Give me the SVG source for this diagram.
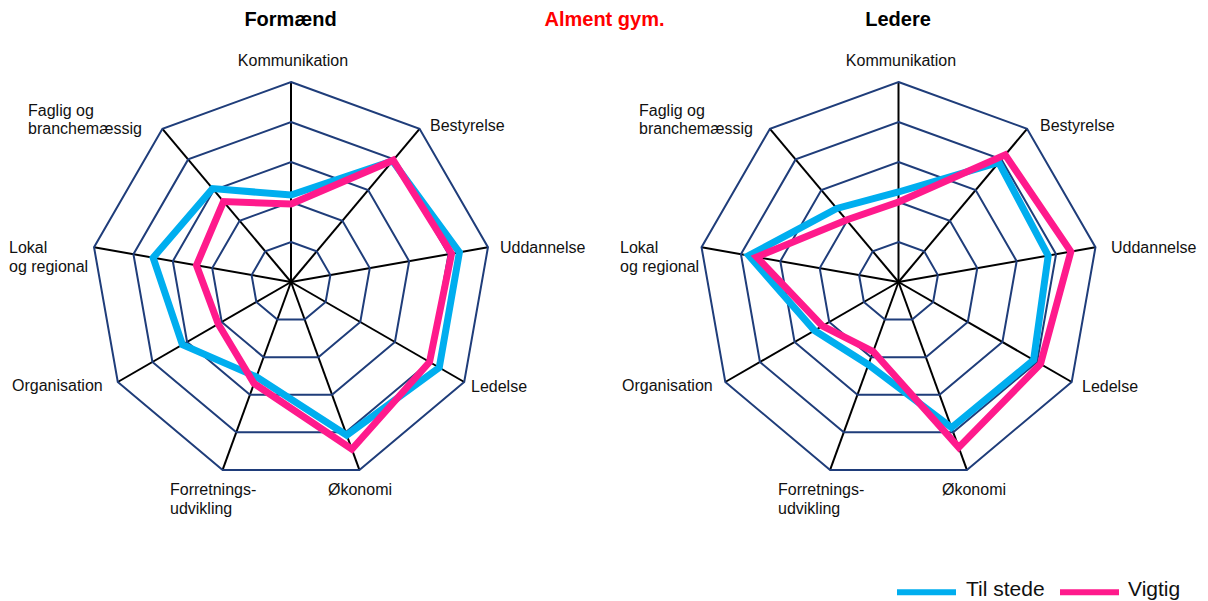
<svg xmlns="http://www.w3.org/2000/svg" width="1208" height="601" viewBox="0 0 1208 601">
<defs>
<style>
.ring{fill:none;stroke:#1f3d7a;stroke-width:2}
.spoke{stroke:#000;stroke-width:2}
.cyan{fill:none;stroke:#00aeef;stroke-width:7;stroke-linejoin:miter}
.pink{fill:none;stroke:#ff1a8c;stroke-width:7;stroke-linejoin:miter}
.lbl{font-family:"Liberation Sans",Arial,sans-serif;font-size:16px;fill:#111}
.ttl{font-family:"Liberation Sans",Arial,sans-serif;font-size:20px;font-weight:bold;fill:#000;text-anchor:middle}
.leg{font-family:"Liberation Sans",Arial,sans-serif;font-size:21px;fill:#111}
</style>
<g id="grid">
<g class="spokes">
<line class="spoke" x1="0" y1="0" x2="0" y2="-200"/>
<line class="spoke" x1="0" y1="0" x2="128.56" y2="-153.21"/>
<line class="spoke" x1="0" y1="0" x2="196.96" y2="-34.73"/>
<line class="spoke" x1="0" y1="0" x2="173.21" y2="100"/>
<line class="spoke" x1="0" y1="0" x2="68.4" y2="187.94"/>
<line class="spoke" x1="0" y1="0" x2="-68.4" y2="187.94"/>
<line class="spoke" x1="0" y1="0" x2="-173.21" y2="100"/>
<line class="spoke" x1="0" y1="0" x2="-196.96" y2="-34.73"/>
<line class="spoke" x1="0" y1="0" x2="-128.56" y2="-153.21"/>
</g>
<polygon class="ring" points="0,-40 25.71,-30.64 39.39,-6.94 34.64,20 13.68,37.59 -13.68,37.59 -34.64,20 -39.39,-6.94 -25.71,-30.64"/>
<polygon class="ring" points="0,-80 51.42,-61.28 78.78,-13.89 69.28,40 27.36,75.18 -27.36,75.18 -69.28,40 -78.78,-13.89 -51.42,-61.28"/>
<polygon class="ring" points="0,-120 77.13,-91.93 118.18,-20.84 103.92,60 41.04,112.76 -41.04,112.76 -103.92,60 -118.18,-20.84 -77.13,-91.93"/>
<polygon class="ring" points="0,-160 102.85,-122.57 157.57,-27.78 138.56,80 54.72,150.35 -54.72,150.35 -138.56,80 -157.57,-27.78 -102.85,-122.57"/>
<polygon class="ring" points="0,-200 128.56,-153.21 196.96,-34.73 173.21,100 68.4,187.94 -68.4,187.94 -173.21,100 -196.96,-34.73 -128.56,-153.21"/>
</g>
</defs>
<rect width="1208" height="601" fill="#fff"/>

<g id="titles">
<text class="ttl" x="290.5" y="26">Formænd</text>
<text class="ttl" x="604.5" y="26" style="fill:#ff0000">Alment gym.</text>
<text class="ttl" x="898" y="26">Ledere</text>
</g>

<g id="chart-formaend">
<use href="#grid" transform="translate(291,282)"/>
<g transform="translate(291,282)">
<polygon id="f-tilstede" class="cyan" points="0,-87 101.56,-121.03 168.4,-29.69 148.26,85.6 55.75,153.17 -34.54,94.91 -108.6,62.7 -137.87,-24.31 -78.42,-93.46"/>
<polygon id="f-vigtig" class="pink" points="0,-78 102.2,-121.8 160.52,-28.3 138.56,80 60.88,167.26 -36.94,101.49 -72.74,42 -94.54,-16.67 -67.49,-80.43"/>
</g>
<g class="labels">
<text class="lbl" x="293" y="66" text-anchor="middle">Kommunikation</text>
<text class="lbl" x="430" y="131">Bestyrelse</text>
<text class="lbl" x="500" y="253">Uddannelse</text>
<text class="lbl" x="471" y="392">Ledelse</text>
<text class="lbl" x="328" y="495">Økonomi</text>
<text class="lbl" x="170" y="495">Forretnings-</text>
<text class="lbl" x="170" y="514">udvikling</text>
<text class="lbl" x="12" y="391">Organisation</text>
<text class="lbl" x="9" y="253">Lokal</text>
<text class="lbl" x="9" y="272">og regional</text>
<text class="lbl" x="28" y="116">Faglig og</text>
<text class="lbl" x="28" y="134">branchemæssig</text>
</g>
</g>

<g id="chart-ledere">
<use href="#grid" transform="translate(898.5,282)"/>
<g transform="translate(898.5,282)">
<polygon id="l-tilstede" class="cyan" points="0,-90 100.28,-119.5 149.69,-26.39 135.1,78 53.01,145.65 -30.1,82.69 -84,48.5 -149.69,-26.39 -61.71,-73.54"/>
<polygon id="l-vigtig" class="pink" points="0,-80 106.7,-127.16 172.34,-30.38 142.02,82 60.19,165.39 -25.31,69.54 -76.21,44 -141.81,-25 -52.07,-62.05"/>
</g>
<g class="labels">
<text class="lbl" x="901" y="66" text-anchor="middle">Kommunikation</text>
<text class="lbl" x="1040" y="131">Bestyrelse</text>
<text class="lbl" x="1111" y="253">Uddannelse</text>
<text class="lbl" x="1082" y="392">Ledelse</text>
<text class="lbl" x="942" y="495">Økonomi</text>
<text class="lbl" x="778" y="495">Forretnings-</text>
<text class="lbl" x="778" y="514">udvikling</text>
<text class="lbl" x="622" y="391">Organisation</text>
<text class="lbl" x="620" y="253">Lokal</text>
<text class="lbl" x="620" y="272">og regional</text>
<text class="lbl" x="639" y="116">Faglig og</text>
<text class="lbl" x="639" y="134">branchemæssig</text>
</g>
</g>

<g id="legend">
<line x1="897" y1="592.3" x2="956" y2="592.3" stroke="#00aeef" stroke-width="6"/>
<text class="leg" x="966" y="596">Til stede</text>
<line x1="1060" y1="592.3" x2="1119" y2="592.3" stroke="#ff1a8c" stroke-width="6"/>
<text class="leg" x="1128" y="596">Vigtig</text>
</g>
</svg>
